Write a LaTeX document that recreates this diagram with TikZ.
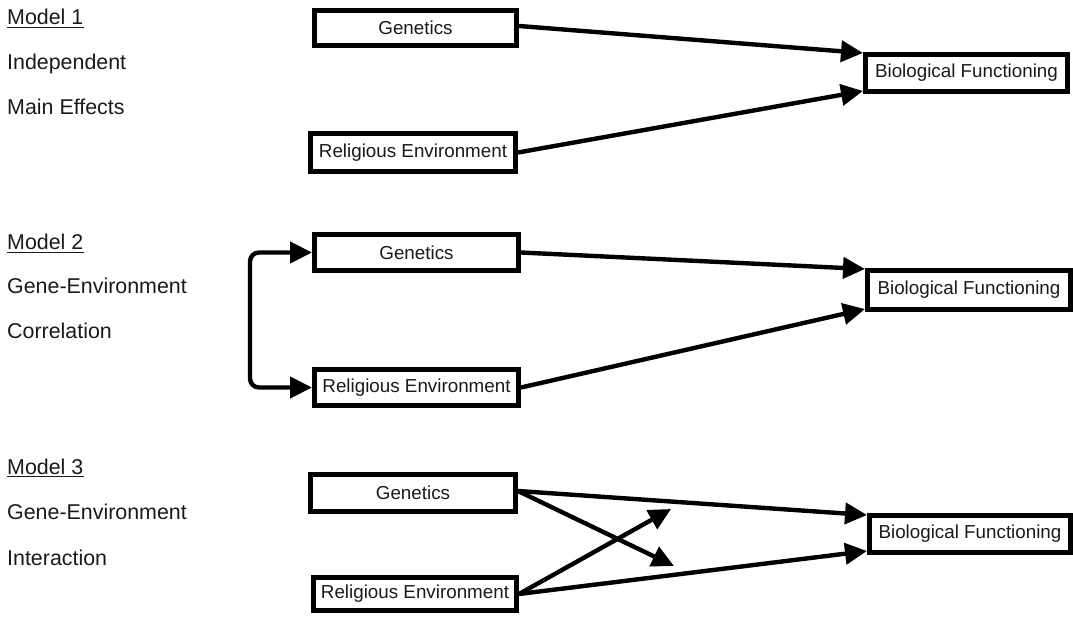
\documentclass[tikz,border=0pt]{standalone}
\usepackage{fontspec}
\setmainfont{Liberation Sans}
\usetikzlibrary{arrows.meta,calc}
\definecolor{ink}{HTML}{1A1A1A}
\begin{document}
\begin{tikzpicture}[x=1pt,y=-1pt,
  box/.style={draw=black, line width=5pt, inner sep=0pt, outer sep=2.5pt,
    font=\fontsize{18.8}{22}\selectfont, text=ink},
  lbl/.style={anchor=base west, inner sep=0pt, font=\fontsize{21.4}{25}\selectfont, text=ink},
  link/.style={draw=black, line width=4.4pt, -{Triangle[length=22pt,width=21pt]}},
  uline/.style={draw=ink, line width=1.4pt},
]
\useasboundingbox (0,0) rectangle (1073,617);

% ---------- Model 1: independent main effects ----------
\node[lbl] (m1)  at (7,25)  {Model 1};
\node[lbl] (m1a) at (7,70)  {Independent};
\node[lbl] (m1b) at (7,115) {Main Effects};
\draw[uline] ($(m1.base west)+(0,2.5)$) -- ($(m1.base east)+(0,2.5)$);

\node[box, minimum width=202pt, minimum height=35pt] (gen1) at (415.5,28)  {Genetics};
\node[box, minimum width=205pt, minimum height=38pt] (re1)  at (413,152.5) {Religious Environment};
\node[box, minimum width=202pt, minimum height=37pt] (bf1)  at (966.5,73)  {Biological Functioning};

\draw[link] ($(gen1.east)+(0,-2)$) -- ($(bf1.west)+(0,-20)$);
\draw[link] (re1.east) -- ($(bf1.west)+(0,18)$);

% ---------- Model 2: gene-environment correlation ----------
\node[lbl] (m2)  at (7,250) {Model 2};
\node[lbl] (m2a) at (7,294) {Gene-Environment};
\node[lbl] (m2b) at (7,339) {Correlation};
\draw[uline] ($(m2.base west)+(0,2.5)$) -- ($(m2.base east)+(0,2.5)$);

\node[box, minimum width=204pt, minimum height=36pt] (gen2) at (416.5,252.5) {Genetics};
\node[box, minimum width=204pt, minimum height=36pt] (re2)  at (416.5,387.5) {Religious Environment};
\node[box, minimum width=203pt, minimum height=39pt] (bf2)  at (969,290)     {Biological Functioning};

\draw[link] (gen2.east) -- ($(bf2.west)+(0,-21)$);
\draw[link] (re2.east) -- ($(bf2.west)+(0,19)$);
\draw[draw=black, line width=4.4pt, rounded corners=9pt,
      {Triangle[length=22pt,width=21pt]}-{Triangle[length=22pt,width=21pt]}]
  (gen2.west) -- ($(gen2.west)+(-62,0)$) |- (re2.west);

% ---------- Model 3: gene-environment interaction ----------
\node[lbl] (m3)  at (7,474) {Model 3};
\node[lbl] (m3a) at (7,519) {Gene-Environment};
\node[lbl] (m3b) at (7,565) {Interaction};
\draw[uline] ($(m3.base west)+(0,2.5)$) -- ($(m3.base east)+(0,2.5)$);

\node[box, minimum width=205pt, minimum height=37pt] (gen3) at (413,493)   {Genetics};
\node[box, minimum width=203pt, minimum height=33pt] (re3)  at (415,594)   {Religious Environment};
\node[box, minimum width=201pt, minimum height=37pt] (bf3)  at (970,534)   {Biological Functioning};

% open ends of the crossing arrows
\coordinate (xg) at (674,566);
\coordinate (xr) at (671,509);

\draw[link] ($(gen3.east)+(0,-2)$) -- ($(bf3.west)+(0,-19)$);
\draw[link] (re3.east) -- ($(bf3.west)+(0,17)$);
\draw[link] ($(gen3.east)+(0,-2)$) -- (xg);
\draw[link] (re3.east) -- (xr);
\end{tikzpicture}
\end{document}
